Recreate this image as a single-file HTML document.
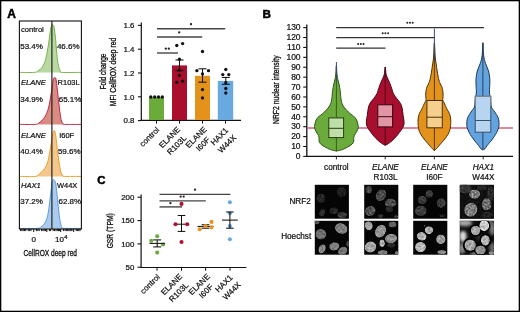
<!DOCTYPE html>
<html><head><meta charset="utf-8"><title>Figure</title>
<style>
html,body{margin:0;padding:0;background:#fff;}
body{width:520px;height:312px;overflow:hidden;}
svg{display:block;font-family:"Liberation Sans",sans-serif;}
text{font-family:"Liberation Sans",sans-serif;}
</style></head><body>
<svg width="520" height="312" viewBox="0 0 520 312">
<g opacity="0.999">
<rect x="0" y="0" width="520" height="312" fill="#fff"/>
<rect x="0.65" y="0.65" width="518.7" height="310.7" fill="none" stroke="#000" stroke-width="1.3"/>
<text x="7.3" y="17.8" text-anchor="start" fill="#000" style="font-size:12px;stroke:#000;stroke-width:0.5px;font-weight:bold;" >A</text>
<text x="262.5" y="17.5" text-anchor="start" fill="#000" style="font-size:11.7px;stroke:#000;stroke-width:0.5px;font-weight:bold;" >B</text>
<text x="97.3" y="183.7" text-anchor="start" fill="#000" style="font-size:11.4px;stroke:#000;stroke-width:0.5px;font-weight:bold;" >C</text>
<path d="M19.40,72.40C21.87,72.40 31.08,72.65 34.20,72.40C37.32,72.15 36.82,71.70 38.10,70.90C39.38,70.10 40.78,69.05 41.90,67.60C43.02,66.15 44.00,64.38 44.80,62.20C45.60,60.02 46.05,57.70 46.70,54.50C47.35,51.30 48.12,46.83 48.70,43.00C49.28,39.17 49.73,34.45 50.20,31.50C50.67,28.55 51.12,26.43 51.50,25.30C51.88,24.17 52.08,24.47 52.50,24.70C52.92,24.93 53.52,24.62 54.00,26.70C54.48,28.78 54.92,32.57 55.40,37.20C55.88,41.83 56.42,49.85 56.90,54.50C57.38,59.15 57.75,62.37 58.30,65.10C58.85,67.83 59.57,69.68 60.20,70.90C60.83,72.12 58.57,72.15 62.10,72.40C65.63,72.65 78.18,72.40 81.40,72.40" fill="#b9d9a2" stroke="none"/>
<path d="M19.40,72.40C21.87,72.40 31.08,72.65 34.20,72.40C37.32,72.15 36.82,71.70 38.10,70.90C39.38,70.10 40.78,69.05 41.90,67.60C43.02,66.15 44.00,64.38 44.80,62.20C45.60,60.02 46.05,57.70 46.70,54.50C47.35,51.30 48.12,46.83 48.70,43.00C49.28,39.17 49.73,34.45 50.20,31.50C50.67,28.55 51.12,26.43 51.50,25.30C51.88,24.17 52.08,24.47 52.50,24.70C52.92,24.93 53.52,24.62 54.00,26.70C54.48,28.78 54.92,32.57 55.40,37.20C55.88,41.83 56.42,49.85 56.90,54.50C57.38,59.15 57.75,62.37 58.30,65.10C58.85,67.83 59.57,69.68 60.20,70.90C60.83,72.12 58.57,72.15 62.10,72.40C65.63,72.65 78.18,72.40 81.40,72.40" fill="none" stroke="#6bab3c" stroke-width="0.9"/>
<path d="M19.40,124.40C22.03,124.40 31.93,124.65 35.20,124.40C38.47,124.15 37.72,123.70 39.00,122.90C40.28,122.10 41.77,120.88 42.90,119.60C44.03,118.32 44.93,116.90 45.80,115.20C46.67,113.50 47.40,111.80 48.10,109.40C48.80,107.00 49.43,103.83 50.00,100.80C50.57,97.77 51.02,94.42 51.50,91.20C51.98,87.98 52.52,83.68 52.90,81.50C53.28,79.32 53.48,78.73 53.80,78.10C54.12,77.47 54.43,77.52 54.80,77.70C55.17,77.88 55.58,77.28 56.00,79.20C56.42,81.12 56.83,85.28 57.30,89.20C57.77,93.12 58.32,98.53 58.80,102.70C59.28,106.87 59.75,111.15 60.20,114.20C60.65,117.25 61.02,119.40 61.50,121.00C61.98,122.60 62.58,123.23 63.10,123.80C63.62,124.37 61.55,124.30 64.60,124.40C67.65,124.50 78.60,124.40 81.40,124.40" fill="#d98c82" stroke="none"/>
<path d="M19.40,124.40C22.03,124.40 31.93,124.65 35.20,124.40C38.47,124.15 37.72,123.70 39.00,122.90C40.28,122.10 41.77,120.88 42.90,119.60C44.03,118.32 44.93,116.90 45.80,115.20C46.67,113.50 47.40,111.80 48.10,109.40C48.80,107.00 49.43,103.83 50.00,100.80C50.57,97.77 51.02,94.42 51.50,91.20C51.98,87.98 52.52,83.68 52.90,81.50C53.28,79.32 53.48,78.73 53.80,78.10C54.12,77.47 54.43,77.52 54.80,77.70C55.17,77.88 55.58,77.28 56.00,79.20C56.42,81.12 56.83,85.28 57.30,89.20C57.77,93.12 58.32,98.53 58.80,102.70C59.28,106.87 59.75,111.15 60.20,114.20C60.65,117.25 61.02,119.40 61.50,121.00C61.98,122.60 62.58,123.23 63.10,123.80C63.62,124.37 61.55,124.30 64.60,124.40C67.65,124.50 78.60,124.40 81.40,124.40" fill="none" stroke="#b8173a" stroke-width="0.9"/>
<path d="M19.40,176.40C22.03,176.40 31.93,176.75 35.20,176.40C38.47,176.05 37.72,175.28 39.00,174.30C40.28,173.32 41.77,171.78 42.90,170.50C44.03,169.22 44.93,168.27 45.80,166.60C46.67,164.93 47.40,163.13 48.10,160.50C48.80,157.87 49.43,154.02 50.00,150.80C50.57,147.58 51.02,144.08 51.50,141.20C51.98,138.32 52.48,135.25 52.90,133.50C53.32,131.75 53.65,131.02 54.00,130.70C54.35,130.38 54.67,130.48 55.00,131.60C55.33,132.72 55.62,134.52 56.00,137.40C56.38,140.28 56.83,145.05 57.30,148.90C57.77,152.75 58.32,157.13 58.80,160.50C59.28,163.87 59.75,166.87 60.20,169.10C60.65,171.33 61.02,172.78 61.50,173.90C61.98,175.02 62.58,175.38 63.10,175.80C63.62,176.22 61.55,176.30 64.60,176.40C67.65,176.50 78.60,176.40 81.40,176.40" fill="#f4c88c" stroke="none"/>
<path d="M19.40,176.40C22.03,176.40 31.93,176.75 35.20,176.40C38.47,176.05 37.72,175.28 39.00,174.30C40.28,173.32 41.77,171.78 42.90,170.50C44.03,169.22 44.93,168.27 45.80,166.60C46.67,164.93 47.40,163.13 48.10,160.50C48.80,157.87 49.43,154.02 50.00,150.80C50.57,147.58 51.02,144.08 51.50,141.20C51.98,138.32 52.48,135.25 52.90,133.50C53.32,131.75 53.65,131.02 54.00,130.70C54.35,130.38 54.67,130.48 55.00,131.60C55.33,132.72 55.62,134.52 56.00,137.40C56.38,140.28 56.83,145.05 57.30,148.90C57.77,152.75 58.32,157.13 58.80,160.50C59.28,163.87 59.75,166.87 60.20,169.10C60.65,171.33 61.02,172.78 61.50,173.90C61.98,175.02 62.58,175.38 63.10,175.80C63.62,176.22 61.55,176.30 64.60,176.40C67.65,176.50 78.60,176.40 81.40,176.40" fill="none" stroke="#e8961d" stroke-width="0.9"/>
<path d="M19.40,228.40C22.35,228.40 33.50,228.65 37.10,228.40C40.70,228.15 39.88,227.57 41.00,226.90C42.12,226.23 42.93,225.52 43.80,224.40C44.67,223.28 45.48,222.03 46.20,220.20C46.92,218.37 47.53,216.30 48.10,213.40C48.67,210.50 49.12,206.48 49.60,202.80C50.08,199.12 50.58,194.65 51.00,191.30C51.42,187.95 51.75,184.62 52.10,182.70C52.45,180.78 52.72,180.20 53.10,179.80C53.48,179.40 53.95,179.67 54.40,180.30C54.85,180.93 55.38,181.45 55.80,183.60C56.22,185.75 56.48,189.35 56.90,193.20C57.32,197.05 57.85,202.53 58.30,206.70C58.75,210.87 59.12,215.07 59.60,218.20C60.08,221.33 60.62,223.83 61.20,225.50C61.78,227.17 59.73,227.72 63.10,228.20C66.47,228.68 78.35,228.37 81.40,228.40" fill="#aacbee" stroke="none"/>
<path d="M19.40,228.40C22.35,228.40 33.50,228.65 37.10,228.40C40.70,228.15 39.88,227.57 41.00,226.90C42.12,226.23 42.93,225.52 43.80,224.40C44.67,223.28 45.48,222.03 46.20,220.20C46.92,218.37 47.53,216.30 48.10,213.40C48.67,210.50 49.12,206.48 49.60,202.80C50.08,199.12 50.58,194.65 51.00,191.30C51.42,187.95 51.75,184.62 52.10,182.70C52.45,180.78 52.72,180.20 53.10,179.80C53.48,179.40 53.95,179.67 54.40,180.30C54.85,180.93 55.38,181.45 55.80,183.60C56.22,185.75 56.48,189.35 56.90,193.20C57.32,197.05 57.85,202.53 58.30,206.70C58.75,210.87 59.12,215.07 59.60,218.20C60.08,221.33 60.62,223.83 61.20,225.50C61.78,227.17 59.73,227.72 63.10,228.20C66.47,228.68 78.35,228.37 81.40,228.40" fill="none" stroke="#4c93dc" stroke-width="0.9"/>
<line x1="51.9" y1="21.0" x2="51.9" y2="229.0" stroke="#1c1c1c" stroke-width="1.15" stroke-linecap="butt"/>
<rect x="19.4" y="21.0" width="62.00000000000001" height="208.0" fill="none" stroke="#111" stroke-width="1.1"/>
<line x1="20.6" y1="229" x2="20.6" y2="231.1" stroke="#111" stroke-width="1.0" stroke-linecap="butt"/>
<line x1="21.9" y1="229" x2="21.9" y2="231.1" stroke="#111" stroke-width="1.0" stroke-linecap="butt"/>
<line x1="23.2" y1="229" x2="23.2" y2="231.1" stroke="#111" stroke-width="1.0" stroke-linecap="butt"/>
<line x1="24.5" y1="229" x2="24.5" y2="231.1" stroke="#111" stroke-width="1.0" stroke-linecap="butt"/>
<line x1="25.8" y1="229" x2="25.8" y2="231.1" stroke="#111" stroke-width="1.0" stroke-linecap="butt"/>
<line x1="28.2" y1="229" x2="28.2" y2="231.1" stroke="#111" stroke-width="1.0" stroke-linecap="butt"/>
<line x1="29.6" y1="229" x2="29.6" y2="231.1" stroke="#111" stroke-width="1.0" stroke-linecap="butt"/>
<line x1="31.0" y1="229" x2="31.0" y2="231.1" stroke="#111" stroke-width="1.0" stroke-linecap="butt"/>
<line x1="33.7" y1="229" x2="33.7" y2="232.0" stroke="#111" stroke-width="1.0" stroke-linecap="butt"/>
<line x1="36.4" y1="229" x2="36.4" y2="231.1" stroke="#111" stroke-width="1.0" stroke-linecap="butt"/>
<line x1="37.8" y1="229" x2="37.8" y2="231.1" stroke="#111" stroke-width="1.0" stroke-linecap="butt"/>
<line x1="39.2" y1="229" x2="39.2" y2="231.1" stroke="#111" stroke-width="1.0" stroke-linecap="butt"/>
<line x1="41.6" y1="229" x2="41.6" y2="231.1" stroke="#111" stroke-width="1.0" stroke-linecap="butt"/>
<line x1="42.9" y1="229" x2="42.9" y2="231.1" stroke="#111" stroke-width="1.0" stroke-linecap="butt"/>
<line x1="44.2" y1="229" x2="44.2" y2="231.1" stroke="#111" stroke-width="1.0" stroke-linecap="butt"/>
<line x1="45.5" y1="229" x2="45.5" y2="231.1" stroke="#111" stroke-width="1.0" stroke-linecap="butt"/>
<line x1="46.8" y1="229" x2="46.8" y2="232.0" stroke="#111" stroke-width="1.0" stroke-linecap="butt"/>
<line x1="49.4" y1="229" x2="49.4" y2="231.1" stroke="#111" stroke-width="1.0" stroke-linecap="butt"/>
<line x1="50.6" y1="229" x2="50.6" y2="231.1" stroke="#111" stroke-width="1.0" stroke-linecap="butt"/>
<line x1="53.2" y1="229" x2="53.2" y2="231.1" stroke="#111" stroke-width="1.0" stroke-linecap="butt"/>
<line x1="54.6" y1="229" x2="54.6" y2="231.1" stroke="#111" stroke-width="1.0" stroke-linecap="butt"/>
<line x1="56.0" y1="229" x2="56.0" y2="231.1" stroke="#111" stroke-width="1.0" stroke-linecap="butt"/>
<line x1="57.3" y1="229" x2="57.3" y2="231.1" stroke="#111" stroke-width="1.0" stroke-linecap="butt"/>
<line x1="58.5" y1="229" x2="58.5" y2="231.1" stroke="#111" stroke-width="1.0" stroke-linecap="butt"/>
<line x1="59.6" y1="229" x2="59.6" y2="231.1" stroke="#111" stroke-width="1.0" stroke-linecap="butt"/>
<line x1="60.7" y1="229" x2="60.7" y2="232.0" stroke="#111" stroke-width="1.0" stroke-linecap="butt"/>
<line x1="63.4" y1="229" x2="63.4" y2="231.1" stroke="#111" stroke-width="1.0" stroke-linecap="butt"/>
<line x1="65.0" y1="229" x2="65.0" y2="231.1" stroke="#111" stroke-width="1.0" stroke-linecap="butt"/>
<line x1="66.4" y1="229" x2="66.4" y2="231.1" stroke="#111" stroke-width="1.0" stroke-linecap="butt"/>
<line x1="67.7" y1="229" x2="67.7" y2="231.1" stroke="#111" stroke-width="1.0" stroke-linecap="butt"/>
<line x1="68.9" y1="229" x2="68.9" y2="231.1" stroke="#111" stroke-width="1.0" stroke-linecap="butt"/>
<line x1="70.0" y1="229" x2="70.0" y2="231.1" stroke="#111" stroke-width="1.0" stroke-linecap="butt"/>
<line x1="71.0" y1="229" x2="71.0" y2="231.1" stroke="#111" stroke-width="1.0" stroke-linecap="butt"/>
<line x1="72.0" y1="229" x2="72.0" y2="231.1" stroke="#111" stroke-width="1.0" stroke-linecap="butt"/>
<line x1="73.7" y1="229" x2="73.7" y2="232.0" stroke="#111" stroke-width="1.0" stroke-linecap="butt"/>
<line x1="76.2" y1="229" x2="76.2" y2="231.1" stroke="#111" stroke-width="1.0" stroke-linecap="butt"/>
<line x1="77.6" y1="229" x2="77.6" y2="231.1" stroke="#111" stroke-width="1.0" stroke-linecap="butt"/>
<line x1="78.8" y1="229" x2="78.8" y2="231.1" stroke="#111" stroke-width="1.0" stroke-linecap="butt"/>
<line x1="80.0" y1="229" x2="80.0" y2="231.1" stroke="#111" stroke-width="1.0" stroke-linecap="butt"/>
<text x="21.0" y="32.4" text-anchor="start" fill="#111" style="font-size:7.6px;stroke:#111;stroke-width:0.22px;" >control</text>
<text x="20.2" y="49.2" text-anchor="start" fill="#111" style="font-size:8.0px;stroke:#111;stroke-width:0.22px;" >53.4%</text>
<text x="79.6" y="48.5" text-anchor="end" fill="#111" style="font-size:8.0px;stroke:#111;stroke-width:0.22px;" >46.6%</text>
<text x="21.0" y="85.0" text-anchor="start" fill="#111" style="font-size:7.6px;stroke:#111;stroke-width:0.22px;font-style:italic;" >ELANE</text>
<text x="20.2" y="102.3" text-anchor="start" fill="#111" style="font-size:8.0px;stroke:#111;stroke-width:0.22px;" >34.9%</text>
<text x="81.4" y="102.3" text-anchor="end" fill="#111" style="font-size:8.0px;stroke:#111;stroke-width:0.22px;" >65.1%</text>
<text x="57.6" y="85.0" text-anchor="start" fill="#111" style="font-size:7.5px;stroke:#111;stroke-width:0.22px;" >R103L</text>
<text x="21.0" y="137.6" text-anchor="start" fill="#111" style="font-size:7.6px;stroke:#111;stroke-width:0.22px;font-style:italic;" >ELANE</text>
<text x="20.2" y="154.3" text-anchor="start" fill="#111" style="font-size:8.0px;stroke:#111;stroke-width:0.22px;" >40.4%</text>
<text x="80.6" y="154.3" text-anchor="end" fill="#111" style="font-size:8.0px;stroke:#111;stroke-width:0.22px;" >59.6%</text>
<text x="59.2" y="137.6" text-anchor="start" fill="#111" style="font-size:7.5px;stroke:#111;stroke-width:0.22px;" >I60F</text>
<text x="21.0" y="187.6" text-anchor="start" fill="#111" style="font-size:7.6px;stroke:#111;stroke-width:0.22px;font-style:italic;" >HAX1</text>
<text x="20.2" y="203.8" text-anchor="start" fill="#111" style="font-size:8.0px;stroke:#111;stroke-width:0.22px;" >37.2%</text>
<text x="81.2" y="203.8" text-anchor="end" fill="#111" style="font-size:8.0px;stroke:#111;stroke-width:0.22px;" >62.8%</text>
<text x="56.9" y="187.6" text-anchor="start" fill="#111" style="font-size:7.5px;stroke:#111;stroke-width:0.22px;" >W44X</text>
<text x="33.8" y="242.0" text-anchor="middle" fill="#111" style="font-size:8.0px;stroke:#111;stroke-width:0.22px;" >0</text>
<text x="55.0" y="242.0" fill="#111" style="font-size:8.0px;stroke:#111;stroke-width:0.22px;">10<tspan dy="-3.2" dx="0.3" style="font-size:5.6px;">4</tspan></text>
<text transform="translate(50.3,256.3) rotate(0) scale(0.71,1)" text-anchor="middle" fill="#111" style="font-size:9.3px;stroke:#111;stroke-width:0.33px;">CellROX deep red</text>
<line x1="141.3" y1="22.6" x2="141.3" y2="120.9" stroke="#111" stroke-width="1.2" stroke-linecap="butt"/>
<line x1="140.70000000000002" y1="120.4" x2="241.0" y2="120.4" stroke="#111" stroke-width="1.2" stroke-linecap="butt"/>
<line x1="138.0" y1="120.6" x2="141.3" y2="120.6" stroke="#111" stroke-width="1.1" stroke-linecap="butt"/>
<text x="134.5" y="123.3" text-anchor="end" fill="#111" style="font-size:7.9px;stroke:#111;stroke-width:0.22px;" >0.8</text>
<line x1="138.0" y1="96.8" x2="141.3" y2="96.8" stroke="#111" stroke-width="1.1" stroke-linecap="butt"/>
<text x="134.5" y="99.5" text-anchor="end" fill="#111" style="font-size:7.9px;stroke:#111;stroke-width:0.22px;" >1.0</text>
<line x1="138.0" y1="73.0" x2="141.3" y2="73.0" stroke="#111" stroke-width="1.1" stroke-linecap="butt"/>
<text x="134.5" y="75.7" text-anchor="end" fill="#111" style="font-size:7.9px;stroke:#111;stroke-width:0.22px;" >1.2</text>
<line x1="138.0" y1="49.20000000000001" x2="141.3" y2="49.20000000000001" stroke="#111" stroke-width="1.1" stroke-linecap="butt"/>
<text x="134.5" y="51.90000000000001" text-anchor="end" fill="#111" style="font-size:7.9px;stroke:#111;stroke-width:0.22px;" >1.4</text>
<line x1="138.0" y1="25.39999999999999" x2="141.3" y2="25.39999999999999" stroke="#111" stroke-width="1.1" stroke-linecap="butt"/>
<text x="134.5" y="28.09999999999999" text-anchor="end" fill="#111" style="font-size:7.9px;stroke:#111;stroke-width:0.22px;" >1.6</text>
<rect x="149.0" y="97.0" width="15.0" height="23.00" fill="#6bab3c"/>
<rect x="172.0" y="65.4" width="15.0" height="54.60" fill="#a90e2d"/>
<rect x="195.0" y="75.8" width="15.0" height="44.20" fill="#e3921c"/>
<rect x="217.8" y="80.9" width="15.399999999999977" height="39.10" fill="#68aadf"/>
<line x1="156.5" y1="120.4" x2="156.5" y2="123.60000000000001" stroke="#111" stroke-width="1.0" stroke-linecap="butt"/>
<line x1="179.5" y1="120.4" x2="179.5" y2="123.60000000000001" stroke="#111" stroke-width="1.0" stroke-linecap="butt"/>
<line x1="202.5" y1="120.4" x2="202.5" y2="123.60000000000001" stroke="#111" stroke-width="1.0" stroke-linecap="butt"/>
<line x1="225.5" y1="120.4" x2="225.5" y2="123.60000000000001" stroke="#111" stroke-width="1.0" stroke-linecap="butt"/>
<line x1="179.5" y1="60.0" x2="179.5" y2="70.7" stroke="#111" stroke-width="1.05" stroke-linecap="butt"/>
<line x1="175.5" y1="60.0" x2="183.5" y2="60.0" stroke="#111" stroke-width="1.05" stroke-linecap="butt"/>
<line x1="175.5" y1="70.7" x2="183.5" y2="70.7" stroke="#111" stroke-width="1.05" stroke-linecap="butt"/>
<line x1="202.5" y1="68.8" x2="202.5" y2="82.2" stroke="#111" stroke-width="1.05" stroke-linecap="butt"/>
<line x1="198.5" y1="68.8" x2="206.5" y2="68.8" stroke="#111" stroke-width="1.05" stroke-linecap="butt"/>
<line x1="198.5" y1="82.2" x2="206.5" y2="82.2" stroke="#111" stroke-width="1.05" stroke-linecap="butt"/>
<line x1="225.8" y1="77.4" x2="225.8" y2="84.3" stroke="#111" stroke-width="1.05" stroke-linecap="butt"/>
<line x1="221.8" y1="77.4" x2="229.8" y2="77.4" stroke="#111" stroke-width="1.05" stroke-linecap="butt"/>
<line x1="221.8" y1="84.3" x2="229.8" y2="84.3" stroke="#111" stroke-width="1.05" stroke-linecap="butt"/>
<circle cx="150.8" cy="97" r="1.65" fill="#111"/>
<circle cx="154.7" cy="97" r="1.65" fill="#111"/>
<circle cx="158.5" cy="97" r="1.65" fill="#111"/>
<circle cx="162.3" cy="97" r="1.65" fill="#111"/>
<circle cx="176.8" cy="45.5" r="1.65" fill="#111"/>
<circle cx="182.6" cy="43.6" r="1.65" fill="#111"/>
<circle cx="179.4" cy="59.2" r="1.65" fill="#111"/>
<circle cx="179.4" cy="70.0" r="1.65" fill="#111"/>
<circle cx="179.4" cy="75.4" r="1.65" fill="#111"/>
<circle cx="176.8" cy="82.3" r="1.65" fill="#111"/>
<circle cx="182.6" cy="81.2" r="1.65" fill="#111"/>
<circle cx="202.5" cy="51.5" r="1.65" fill="#111"/>
<circle cx="196.9" cy="70.7" r="1.65" fill="#111"/>
<circle cx="208.5" cy="70.7" r="1.65" fill="#111"/>
<circle cx="202.5" cy="73.9" r="1.65" fill="#111"/>
<circle cx="202.5" cy="89.6" r="1.65" fill="#111"/>
<circle cx="202.5" cy="97.9" r="1.65" fill="#111"/>
<circle cx="225.8" cy="69.5" r="1.65" fill="#111"/>
<circle cx="222.8" cy="74.6" r="1.65" fill="#111"/>
<circle cx="228.8" cy="74.6" r="1.65" fill="#111"/>
<circle cx="225.8" cy="82.7" r="1.65" fill="#111"/>
<circle cx="225.8" cy="88.5" r="1.65" fill="#111"/>
<circle cx="225.8" cy="93.0" r="1.65" fill="#111"/>
<line x1="157.0" y1="28.7" x2="225.2" y2="28.7" stroke="#454545" stroke-width="1.4" stroke-linecap="butt"/>
<line x1="157.0" y1="37.0" x2="202.2" y2="37.0" stroke="#454545" stroke-width="1.4" stroke-linecap="butt"/>
<line x1="157.0" y1="53.0" x2="178.0" y2="53.0" stroke="#454545" stroke-width="1.4" stroke-linecap="butt"/>
<circle cx="191.00" cy="24.2" r="1.15" fill="#222"/>
<circle cx="179.20" cy="32.4" r="1.15" fill="#222"/>
<circle cx="165.80" cy="48.7" r="1.15" fill="#222"/>
<circle cx="168.80" cy="48.7" r="1.15" fill="#222"/>
<text transform="translate(105.9,71.5) rotate(-90) scale(0.713,1)" text-anchor="middle" fill="#111" style="font-size:9.2px;stroke:#111;stroke-width:0.33px;">Fold change</text>
<text transform="translate(115.5,72.0) rotate(-90) scale(0.736,1)" text-anchor="middle" fill="#111" style="font-size:9.2px;stroke:#111;stroke-width:0.33px;">MFI CellROX deep red</text>
<text transform="translate(149.3,136.8) rotate(-45)" x="0" y="2.88" text-anchor="middle" fill="#111" style="font-size:8.0px;stroke:#111;stroke-width:0.22px;">control</text>
<text transform="translate(169.5,137.2) rotate(-45)" x="0" y="2.88" text-anchor="middle" fill="#111" style="font-size:8.0px;stroke:#111;stroke-width:0.22px;">ELANE</text>
<text transform="translate(176.6,145.0) rotate(-45)" x="0" y="2.88" text-anchor="middle" fill="#111" style="font-size:8.0px;stroke:#111;stroke-width:0.22px;">R103L</text>
<text transform="translate(196.0,137.2) rotate(-45)" x="0" y="2.88" text-anchor="middle" fill="#111" style="font-size:8.0px;stroke:#111;stroke-width:0.22px;">ELANE</text>
<text transform="translate(202.8,144.0) rotate(-45)" x="0" y="2.88" text-anchor="middle" fill="#111" style="font-size:8.0px;stroke:#111;stroke-width:0.22px;">I60F</text>
<text transform="translate(219.3,136.3) rotate(-45)" x="0" y="2.88" text-anchor="middle" fill="#111" style="font-size:8.0px;stroke:#111;stroke-width:0.22px;">HAX1</text>
<text transform="translate(227.0,143.8) rotate(-45)" x="0" y="2.88" text-anchor="middle" fill="#111" style="font-size:8.0px;stroke:#111;stroke-width:0.22px;">W44X</text>
<line x1="141.1" y1="194.4" x2="141.1" y2="268.0" stroke="#111" stroke-width="1.2" stroke-linecap="butt"/>
<line x1="140.5" y1="267.5" x2="246.4" y2="267.5" stroke="#111" stroke-width="1.2" stroke-linecap="butt"/>
<line x1="137.5" y1="267.235" x2="141.1" y2="267.235" stroke="#111" stroke-width="1.1" stroke-linecap="butt"/>
<text x="134.3" y="269.935" text-anchor="end" fill="#111" style="font-size:7.9px;stroke:#111;stroke-width:0.22px;" >50</text>
<line x1="137.5" y1="243.9" x2="141.1" y2="243.9" stroke="#111" stroke-width="1.1" stroke-linecap="butt"/>
<text x="134.3" y="246.6" text-anchor="end" fill="#111" style="font-size:7.9px;stroke:#111;stroke-width:0.22px;" >100</text>
<line x1="137.5" y1="220.565" x2="141.1" y2="220.565" stroke="#111" stroke-width="1.1" stroke-linecap="butt"/>
<text x="134.3" y="223.265" text-anchor="end" fill="#111" style="font-size:7.9px;stroke:#111;stroke-width:0.22px;" >150</text>
<line x1="137.5" y1="197.23000000000002" x2="141.1" y2="197.23000000000002" stroke="#111" stroke-width="1.1" stroke-linecap="butt"/>
<text x="134.3" y="199.93" text-anchor="end" fill="#111" style="font-size:7.9px;stroke:#111;stroke-width:0.22px;" >200</text>
<line x1="157.0" y1="267.5" x2="157.0" y2="270.7" stroke="#111" stroke-width="1.0" stroke-linecap="butt"/>
<line x1="181.5" y1="267.5" x2="181.5" y2="270.7" stroke="#111" stroke-width="1.0" stroke-linecap="butt"/>
<line x1="205.6" y1="267.5" x2="205.6" y2="270.7" stroke="#111" stroke-width="1.0" stroke-linecap="butt"/>
<line x1="230.0" y1="267.5" x2="230.0" y2="270.7" stroke="#111" stroke-width="1.0" stroke-linecap="butt"/>
<text transform="translate(112.5,230.8) rotate(-90) scale(0.733,1)" text-anchor="middle" fill="#111" style="font-size:9.2px;stroke:#111;stroke-width:0.33px;">GSR (TPM)</text>
<line x1="159.5" y1="194.4" x2="230.4" y2="194.4" stroke="#454545" stroke-width="1.4" stroke-linecap="butt"/>
<line x1="159.5" y1="200.9" x2="205.8" y2="200.9" stroke="#454545" stroke-width="1.4" stroke-linecap="butt"/>
<line x1="159.5" y1="206.9" x2="182.0" y2="206.9" stroke="#454545" stroke-width="1.4" stroke-linecap="butt"/>
<circle cx="195.00" cy="189.7" r="1.15" fill="#222"/>
<circle cx="180.70" cy="196.6" r="1.15" fill="#222"/>
<circle cx="183.70" cy="196.6" r="1.15" fill="#222"/>
<circle cx="170.40" cy="203.2" r="1.15" fill="#222"/>
<line x1="181.5" y1="215.5" x2="181.5" y2="231.4" stroke="#111" stroke-width="1.05" stroke-linecap="butt"/>
<line x1="177.7" y1="215.5" x2="185.3" y2="215.5" stroke="#111" stroke-width="1.05" stroke-linecap="butt"/>
<line x1="177.7" y1="231.4" x2="185.3" y2="231.4" stroke="#111" stroke-width="1.05" stroke-linecap="butt"/>
<line x1="173.9" y1="224.2" x2="189.1" y2="224.2" stroke="#111" stroke-width="1.05" stroke-linecap="butt"/>
<line x1="205.5" y1="224.7" x2="205.5" y2="228.2" stroke="#111" stroke-width="1.05" stroke-linecap="butt"/>
<line x1="201.7" y1="224.7" x2="209.3" y2="224.7" stroke="#111" stroke-width="1.05" stroke-linecap="butt"/>
<line x1="201.7" y1="228.2" x2="209.3" y2="228.2" stroke="#111" stroke-width="1.05" stroke-linecap="butt"/>
<line x1="197.5" y1="226.4" x2="213.5" y2="226.4" stroke="#111" stroke-width="1.05" stroke-linecap="butt"/>
<circle cx="157.2" cy="236.2" r="2.05" fill="#6bab3c"/>
<circle cx="151.2" cy="240.8" r="2.05" fill="#6bab3c"/>
<circle cx="163.0" cy="244.5" r="2.05" fill="#6bab3c"/>
<circle cx="157.2" cy="252.6" r="2.05" fill="#6bab3c"/>
<circle cx="181.5" cy="203.9" r="2.05" fill="#b1102f"/>
<circle cx="175.5" cy="224.2" r="2.05" fill="#b1102f"/>
<circle cx="187.2" cy="224.2" r="2.05" fill="#b1102f"/>
<circle cx="181.5" cy="242.0" r="2.05" fill="#b1102f"/>
<circle cx="199.7" cy="229.3" r="2.05" fill="#e8941a"/>
<circle cx="205.5" cy="226.1" r="2.05" fill="#e8941a"/>
<circle cx="211.5" cy="221.9" r="2.05" fill="#e8941a"/>
<circle cx="211.5" cy="227.2" r="2.05" fill="#e8941a"/>
<circle cx="229.9" cy="202.3" r="2.05" fill="#68aadf"/>
<circle cx="229.9" cy="213.2" r="2.05" fill="#68aadf"/>
<circle cx="229.9" cy="226.1" r="2.05" fill="#68aadf"/>
<circle cx="229.9" cy="239.2" r="2.05" fill="#68aadf"/>
<line x1="157.2" y1="239.9" x2="157.2" y2="246.9" stroke="#111" stroke-width="1.05" stroke-linecap="butt"/>
<line x1="153.2" y1="239.9" x2="161.2" y2="239.9" stroke="#111" stroke-width="1.05" stroke-linecap="butt"/>
<line x1="153.2" y1="246.9" x2="161.2" y2="246.9" stroke="#111" stroke-width="1.05" stroke-linecap="butt"/>
<line x1="149.39999999999998" y1="243.4" x2="165.0" y2="243.4" stroke="#111" stroke-width="1.05" stroke-linecap="butt"/>
<line x1="229.9" y1="212.0" x2="229.9" y2="228.2" stroke="#111" stroke-width="1.05" stroke-linecap="butt"/>
<line x1="226.1" y1="212.0" x2="233.70000000000002" y2="212.0" stroke="#111" stroke-width="1.05" stroke-linecap="butt"/>
<line x1="226.1" y1="228.2" x2="233.70000000000002" y2="228.2" stroke="#111" stroke-width="1.05" stroke-linecap="butt"/>
<line x1="222.0" y1="220.1" x2="237.8" y2="220.1" stroke="#111" stroke-width="1.05" stroke-linecap="butt"/>
<text transform="translate(149.9,283.9) rotate(-45)" x="0" y="2.88" text-anchor="middle" fill="#111" style="font-size:8.0px;stroke:#111;stroke-width:0.22px;">control</text>
<text transform="translate(171.5,284.3) rotate(-45)" x="0" y="2.88" text-anchor="middle" fill="#111" style="font-size:8.0px;stroke:#111;stroke-width:0.22px;">ELANE</text>
<text transform="translate(178.6,292.1) rotate(-45)" x="0" y="2.88" text-anchor="middle" fill="#111" style="font-size:8.0px;stroke:#111;stroke-width:0.22px;">R103L</text>
<text transform="translate(199.1,284.3) rotate(-45)" x="0" y="2.88" text-anchor="middle" fill="#111" style="font-size:8.0px;stroke:#111;stroke-width:0.22px;">ELANE</text>
<text transform="translate(205.9,291.0) rotate(-45)" x="0" y="2.88" text-anchor="middle" fill="#111" style="font-size:8.0px;stroke:#111;stroke-width:0.22px;">I60F</text>
<text transform="translate(223.8,283.4) rotate(-45)" x="0" y="2.88" text-anchor="middle" fill="#111" style="font-size:8.0px;stroke:#111;stroke-width:0.22px;">HAX1</text>
<text transform="translate(231.6,290.8) rotate(-45)" x="0" y="2.88" text-anchor="middle" fill="#111" style="font-size:8.0px;stroke:#111;stroke-width:0.22px;">W44X</text>
<line x1="306.8" y1="24.6" x2="306.8" y2="157.0" stroke="#111" stroke-width="1.3" stroke-linecap="butt"/>
<line x1="306.2" y1="156.4" x2="513.0" y2="156.4" stroke="#111" stroke-width="1.3" stroke-linecap="butt"/>
<line x1="303.2" y1="156.4" x2="306.8" y2="156.4" stroke="#111" stroke-width="1.1" stroke-linecap="butt"/>
<text x="300.6" y="159.20000000000002" text-anchor="end" fill="#111" style="font-size:8.5px;stroke:#111;stroke-width:0.22px;" >0</text>
<line x1="303.2" y1="146.495" x2="306.8" y2="146.495" stroke="#111" stroke-width="1.1" stroke-linecap="butt"/>
<text x="300.6" y="149.29500000000002" text-anchor="end" fill="#111" style="font-size:8.5px;stroke:#111;stroke-width:0.22px;" >10</text>
<line x1="303.2" y1="136.59" x2="306.8" y2="136.59" stroke="#111" stroke-width="1.1" stroke-linecap="butt"/>
<text x="300.6" y="139.39000000000001" text-anchor="end" fill="#111" style="font-size:8.5px;stroke:#111;stroke-width:0.22px;" >20</text>
<line x1="303.2" y1="126.685" x2="306.8" y2="126.685" stroke="#111" stroke-width="1.1" stroke-linecap="butt"/>
<text x="300.6" y="129.485" text-anchor="end" fill="#111" style="font-size:8.5px;stroke:#111;stroke-width:0.22px;" >30</text>
<line x1="303.2" y1="116.78" x2="306.8" y2="116.78" stroke="#111" stroke-width="1.1" stroke-linecap="butt"/>
<text x="300.6" y="119.58" text-anchor="end" fill="#111" style="font-size:8.5px;stroke:#111;stroke-width:0.22px;" >40</text>
<line x1="303.2" y1="106.875" x2="306.8" y2="106.875" stroke="#111" stroke-width="1.1" stroke-linecap="butt"/>
<text x="300.6" y="109.675" text-anchor="end" fill="#111" style="font-size:8.5px;stroke:#111;stroke-width:0.22px;" >50</text>
<line x1="303.2" y1="96.97" x2="306.8" y2="96.97" stroke="#111" stroke-width="1.1" stroke-linecap="butt"/>
<text x="300.6" y="99.77" text-anchor="end" fill="#111" style="font-size:8.5px;stroke:#111;stroke-width:0.22px;" >60</text>
<line x1="303.2" y1="87.065" x2="306.8" y2="87.065" stroke="#111" stroke-width="1.1" stroke-linecap="butt"/>
<text x="300.6" y="89.865" text-anchor="end" fill="#111" style="font-size:8.5px;stroke:#111;stroke-width:0.22px;" >70</text>
<line x1="303.2" y1="77.16" x2="306.8" y2="77.16" stroke="#111" stroke-width="1.1" stroke-linecap="butt"/>
<text x="300.6" y="79.96" text-anchor="end" fill="#111" style="font-size:8.5px;stroke:#111;stroke-width:0.22px;" >80</text>
<line x1="303.2" y1="67.255" x2="306.8" y2="67.255" stroke="#111" stroke-width="1.1" stroke-linecap="butt"/>
<text x="300.6" y="70.05499999999999" text-anchor="end" fill="#111" style="font-size:8.5px;stroke:#111;stroke-width:0.22px;" >90</text>
<line x1="303.2" y1="57.349999999999994" x2="306.8" y2="57.349999999999994" stroke="#111" stroke-width="1.1" stroke-linecap="butt"/>
<text x="300.6" y="60.14999999999999" text-anchor="end" fill="#111" style="font-size:8.5px;stroke:#111;stroke-width:0.22px;" >100</text>
<line x1="303.2" y1="47.44500000000001" x2="306.8" y2="47.44500000000001" stroke="#111" stroke-width="1.1" stroke-linecap="butt"/>
<text x="300.6" y="50.245000000000005" text-anchor="end" fill="#111" style="font-size:8.5px;stroke:#111;stroke-width:0.22px;" >110</text>
<line x1="303.2" y1="37.540000000000006" x2="306.8" y2="37.540000000000006" stroke="#111" stroke-width="1.1" stroke-linecap="butt"/>
<text x="300.6" y="40.34" text-anchor="end" fill="#111" style="font-size:8.5px;stroke:#111;stroke-width:0.22px;" >120</text>
<line x1="303.2" y1="27.63499999999999" x2="306.8" y2="27.63499999999999" stroke="#111" stroke-width="1.1" stroke-linecap="butt"/>
<text x="300.6" y="30.43499999999999" text-anchor="end" fill="#111" style="font-size:8.5px;stroke:#111;stroke-width:0.22px;" >130</text>
<text transform="translate(278.6,89.7) rotate(-90) scale(0.692,1)" text-anchor="middle" fill="#111" style="font-size:9.8px;stroke:#111;stroke-width:0.33px;">NRF2 nuclear intensity</text>
<line x1="307.3" y1="128.0" x2="513.0" y2="128.0" stroke="#d2627b" stroke-width="1.5" stroke-linecap="butt"/>
<path d="M336.25,66.00C336.21,67.00 336.14,70.13 336.00,72.00C335.86,73.87 335.60,75.87 335.40,77.20C335.20,78.53 335.02,79.03 334.80,80.00C334.58,80.97 334.33,82.00 334.10,83.00C333.87,84.00 333.60,85.03 333.40,86.00C333.20,86.97 333.07,87.72 332.90,88.80C332.73,89.88 332.53,91.22 332.40,92.50C332.27,93.78 332.23,95.25 332.10,96.50C331.97,97.75 331.75,99.05 331.60,100.00C331.45,100.95 331.37,101.53 331.20,102.20C331.03,102.87 330.87,103.37 330.60,104.00C330.33,104.63 330.02,105.33 329.60,106.00C329.18,106.67 328.63,107.33 328.10,108.00C327.57,108.67 327.02,109.33 326.40,110.00C325.78,110.67 325.07,111.37 324.40,112.00C323.73,112.63 323.10,113.22 322.40,113.80C321.70,114.38 320.93,114.92 320.20,115.50C319.47,116.08 318.57,116.72 318.00,117.30C317.43,117.88 317.18,118.35 316.80,119.00C316.42,119.65 316.03,120.20 315.70,121.20C315.37,122.20 314.98,123.88 314.80,125.00C314.62,126.12 314.37,126.78 314.60,127.90C314.83,129.02 315.55,130.42 316.20,131.70C316.85,132.98 318.02,134.47 318.50,135.60C318.98,136.73 319.00,137.55 319.10,138.50C319.20,139.45 318.82,140.35 319.10,141.30C319.38,142.25 319.78,143.23 320.80,144.20C321.82,145.17 323.60,146.20 325.20,147.10C326.80,148.00 328.58,148.95 330.40,149.60C332.22,150.25 335.05,150.77 336.10,151.00C337.15,151.23 335.65,151.23 336.70,151.00C337.75,150.77 340.58,150.25 342.40,149.60C344.22,148.95 346.00,148.00 347.60,147.10C349.20,146.20 350.98,145.17 352.00,144.20C353.02,143.23 353.42,142.25 353.70,141.30C353.98,140.35 353.60,139.45 353.70,138.50C353.80,137.55 353.82,136.73 354.30,135.60C354.78,134.47 355.95,132.98 356.60,131.70C357.25,130.42 357.97,129.02 358.20,127.90C358.43,126.78 358.18,126.12 358.00,125.00C357.82,123.88 357.43,122.20 357.10,121.20C356.77,120.20 356.38,119.65 356.00,119.00C355.62,118.35 355.37,117.88 354.80,117.30C354.23,116.72 353.33,116.08 352.60,115.50C351.87,114.92 351.10,114.38 350.40,113.80C349.70,113.22 349.07,112.63 348.40,112.00C347.73,111.37 347.02,110.67 346.40,110.00C345.78,109.33 345.23,108.67 344.70,108.00C344.17,107.33 343.62,106.67 343.20,106.00C342.78,105.33 342.47,104.63 342.20,104.00C341.93,103.37 341.77,102.87 341.60,102.20C341.43,101.53 341.35,100.95 341.20,100.00C341.05,99.05 340.83,97.75 340.70,96.50C340.57,95.25 340.53,93.78 340.40,92.50C340.27,91.22 340.07,89.88 339.90,88.80C339.73,87.72 339.60,86.97 339.40,86.00C339.20,85.03 338.93,84.00 338.70,83.00C338.47,82.00 338.22,80.97 338.00,80.00C337.78,79.03 337.60,78.53 337.40,77.20C337.20,75.87 336.94,73.87 336.80,72.00C336.66,70.13 336.59,67.00 336.55,66.00Z" fill="#6bab3c" stroke="#2f5419" stroke-width="1.0" stroke-linejoin="round"/>
<line x1="336.4" y1="66" x2="336.4" y2="151.0" stroke="#2f5419" stroke-width="0.9" stroke-linecap="butt"/>
<line x1="336.4" y1="62.0" x2="336.4" y2="82.0" stroke="#2f4a80" stroke-width="1.0" stroke-linecap="butt"/>
<rect x="328.8" y="117.9" width="14.800000000000011" height="19.69999999999999" fill="#bfdfa9" stroke="#223d12" stroke-width="1.0"/>
<line x1="328.8" y1="128.3" x2="343.6" y2="128.3" stroke="#223d12" stroke-width="1.0" stroke-linecap="butt"/>
<path d="M385.00,67.20C384.88,68.40 384.73,72.40 384.30,74.40C383.87,76.40 383.07,77.60 382.40,79.20C381.73,80.80 380.93,82.40 380.30,84.00C379.67,85.60 379.15,87.18 378.60,88.80C378.05,90.42 377.82,92.08 377.00,93.70C376.18,95.32 374.87,96.90 373.70,98.50C372.53,100.10 370.90,101.70 370.00,103.30C369.10,104.90 368.75,106.08 368.30,108.10C367.85,110.12 367.62,113.22 367.30,115.40C366.98,117.58 366.52,119.60 366.40,121.20C366.28,122.80 366.27,123.73 366.60,125.00C366.93,126.27 367.63,127.52 368.40,128.80C369.17,130.08 370.23,131.42 371.20,132.70C372.17,133.98 373.07,135.22 374.20,136.50C375.33,137.78 376.77,139.27 378.00,140.40C379.23,141.53 380.45,142.50 381.60,143.30C382.75,144.10 384.25,144.88 384.90,145.20C385.55,145.52 384.85,145.52 385.50,145.20C386.15,144.88 387.65,144.10 388.80,143.30C389.95,142.50 391.17,141.53 392.40,140.40C393.63,139.27 395.07,137.78 396.20,136.50C397.33,135.22 398.23,133.98 399.20,132.70C400.17,131.42 401.23,130.08 402.00,128.80C402.77,127.52 403.47,126.27 403.80,125.00C404.13,123.73 404.12,122.80 404.00,121.20C403.88,119.60 403.42,117.58 403.10,115.40C402.78,113.22 402.55,110.12 402.10,108.10C401.65,106.08 401.30,104.90 400.40,103.30C399.50,101.70 397.87,100.10 396.70,98.50C395.53,96.90 394.22,95.32 393.40,93.70C392.58,92.08 392.35,90.42 391.80,88.80C391.25,87.18 390.73,85.60 390.10,84.00C389.47,82.40 388.67,80.80 388.00,79.20C387.33,77.60 386.53,76.40 386.10,74.40C385.67,72.40 385.52,68.40 385.40,67.20Z" fill="#a80e2d" stroke="#4a0613" stroke-width="1.0" stroke-linejoin="round"/>
<line x1="385.2" y1="67.2" x2="385.2" y2="145.2" stroke="#4a0613" stroke-width="0.9" stroke-linecap="butt"/>
<rect x="377.8" y="104.8" width="14.800000000000011" height="22.10000000000001" fill="#e295a4" stroke="#3b0510" stroke-width="1.0"/>
<line x1="377.8" y1="116.7" x2="392.6" y2="116.7" stroke="#3b0510" stroke-width="1.0" stroke-linecap="butt"/>
<path d="M434.25,43.00C434.20,44.17 434.04,48.00 433.95,50.00C433.86,52.00 433.81,53.33 433.70,55.00C433.59,56.67 433.50,58.33 433.30,60.00C433.10,61.67 432.75,63.33 432.50,65.00C432.25,66.67 432.10,68.10 431.80,70.00C431.50,71.90 431.02,74.73 430.70,76.40C430.38,78.07 430.18,78.93 429.90,80.00C429.62,81.07 429.32,81.97 429.00,82.80C428.68,83.63 428.33,84.35 428.00,85.00C427.67,85.65 427.25,86.12 427.00,86.70C426.75,87.28 426.65,87.87 426.50,88.50C426.35,89.13 426.22,89.75 426.10,90.50C425.98,91.25 425.87,92.15 425.80,93.00C425.73,93.85 425.68,94.77 425.70,95.60C425.72,96.43 425.83,97.35 425.90,98.00C425.97,98.65 426.18,98.92 426.10,99.50C426.02,100.08 425.68,100.87 425.40,101.50C425.12,102.13 424.72,102.63 424.40,103.30C424.08,103.97 423.78,104.85 423.50,105.50C423.22,106.15 423.05,106.45 422.70,107.20C422.35,107.95 421.82,109.23 421.40,110.00C420.98,110.77 420.62,110.97 420.20,111.80C419.78,112.63 419.23,113.98 418.90,115.00C418.57,116.02 418.35,116.82 418.20,117.90C418.05,118.98 418.00,120.23 418.00,121.50C418.00,122.77 418.10,124.33 418.20,125.50C418.30,126.67 418.40,127.48 418.60,128.50C418.80,129.52 419.02,130.60 419.40,131.60C419.78,132.60 420.30,133.48 420.90,134.50C421.50,135.52 422.23,136.65 423.00,137.70C423.77,138.75 424.63,139.78 425.50,140.80C426.37,141.82 427.38,142.85 428.20,143.80C429.02,144.75 429.75,145.73 430.40,146.50C431.05,147.27 431.48,147.75 432.10,148.40C432.72,149.05 433.67,150.07 434.10,150.40C434.53,150.73 434.27,150.73 434.70,150.40C435.13,150.07 436.08,149.05 436.70,148.40C437.32,147.75 437.75,147.27 438.40,146.50C439.05,145.73 439.78,144.75 440.60,143.80C441.42,142.85 442.43,141.82 443.30,140.80C444.17,139.78 445.03,138.75 445.80,137.70C446.57,136.65 447.30,135.52 447.90,134.50C448.50,133.48 449.02,132.60 449.40,131.60C449.78,130.60 450.00,129.52 450.20,128.50C450.40,127.48 450.50,126.67 450.60,125.50C450.70,124.33 450.80,122.77 450.80,121.50C450.80,120.23 450.75,118.98 450.60,117.90C450.45,116.82 450.23,116.02 449.90,115.00C449.57,113.98 449.02,112.63 448.60,111.80C448.18,110.97 447.82,110.77 447.40,110.00C446.98,109.23 446.45,107.95 446.10,107.20C445.75,106.45 445.58,106.15 445.30,105.50C445.02,104.85 444.72,103.97 444.40,103.30C444.08,102.63 443.68,102.13 443.40,101.50C443.12,100.87 442.78,100.08 442.70,99.50C442.62,98.92 442.83,98.65 442.90,98.00C442.97,97.35 443.08,96.43 443.10,95.60C443.12,94.77 443.07,93.85 443.00,93.00C442.93,92.15 442.82,91.25 442.70,90.50C442.58,89.75 442.45,89.13 442.30,88.50C442.15,87.87 442.05,87.28 441.80,86.70C441.55,86.12 441.13,85.65 440.80,85.00C440.47,84.35 440.12,83.63 439.80,82.80C439.48,81.97 439.18,81.07 438.90,80.00C438.62,78.93 438.42,78.07 438.10,76.40C437.78,74.73 437.30,71.90 437.00,70.00C436.70,68.10 436.55,66.67 436.30,65.00C436.05,63.33 435.70,61.67 435.50,60.00C435.30,58.33 435.21,56.67 435.10,55.00C434.99,53.33 434.94,52.00 434.85,50.00C434.76,48.00 434.60,44.17 434.55,43.00Z" fill="#e3921c" stroke="#4d3005" stroke-width="1.0" stroke-linejoin="round"/>
<line x1="434.4" y1="43" x2="434.4" y2="150.4" stroke="#4d3005" stroke-width="0.9" stroke-linecap="butt"/>
<line x1="434.4" y1="28.6" x2="434.4" y2="60.0" stroke="#2f4a80" stroke-width="1.0" stroke-linecap="butt"/>
<rect x="426.9" y="100.5" width="15.400000000000034" height="27.299999999999997" fill="#f6cf8f" stroke="#4a2d04" stroke-width="1.0"/>
<line x1="426.9" y1="117.2" x2="442.3" y2="117.2" stroke="#4a2d04" stroke-width="1.0" stroke-linecap="butt"/>
<path d="M482.80,42.80C482.68,44.93 482.52,52.18 482.10,55.60C481.68,59.02 481.10,60.73 480.30,63.30C479.50,65.87 478.02,68.43 477.30,71.00C476.58,73.57 476.20,76.13 476.00,78.70C475.80,81.27 476.03,84.18 476.10,86.40C476.17,88.62 476.47,90.23 476.40,92.00C476.33,93.77 475.93,95.17 475.70,97.00C475.47,98.83 475.23,101.25 475.00,103.00C474.77,104.75 474.82,106.20 474.30,107.50C473.78,108.80 472.68,109.68 471.90,110.80C471.12,111.92 470.30,113.07 469.60,114.20C468.90,115.33 468.15,116.47 467.70,117.60C467.25,118.73 467.05,119.85 466.90,121.00C466.75,122.15 466.75,123.38 466.80,124.50C466.85,125.62 466.83,126.42 467.20,127.70C467.57,128.98 468.25,130.70 469.00,132.20C469.75,133.70 470.70,135.20 471.70,136.70C472.70,138.20 473.82,139.70 475.00,141.20C476.18,142.70 477.82,144.43 478.80,145.70C479.78,146.97 480.27,148.12 480.90,148.80C481.53,149.48 482.22,149.63 482.60,149.80C482.98,149.97 482.82,149.97 483.20,149.80C483.58,149.63 484.27,149.48 484.90,148.80C485.53,148.12 486.02,146.97 487.00,145.70C487.98,144.43 489.62,142.70 490.80,141.20C491.98,139.70 493.10,138.20 494.10,136.70C495.10,135.20 496.05,133.70 496.80,132.20C497.55,130.70 498.23,128.98 498.60,127.70C498.97,126.42 498.95,125.62 499.00,124.50C499.05,123.38 499.05,122.15 498.90,121.00C498.75,119.85 498.55,118.73 498.10,117.60C497.65,116.47 496.90,115.33 496.20,114.20C495.50,113.07 494.68,111.92 493.90,110.80C493.12,109.68 492.02,108.80 491.50,107.50C490.98,106.20 491.03,104.75 490.80,103.00C490.57,101.25 490.33,98.83 490.10,97.00C489.87,95.17 489.47,93.77 489.40,92.00C489.33,90.23 489.63,88.62 489.70,86.40C489.77,84.18 490.00,81.27 489.80,78.70C489.60,76.13 489.22,73.57 488.50,71.00C487.78,68.43 486.30,65.87 485.50,63.30C484.70,60.73 484.12,59.02 483.70,55.60C483.28,52.18 483.12,44.93 483.00,42.80Z" fill="#63a4e0" stroke="#1f3855" stroke-width="1.0" stroke-linejoin="round"/>
<line x1="482.9" y1="42.8" x2="482.9" y2="149.8" stroke="#1f3855" stroke-width="0.9" stroke-linecap="butt"/>
<rect x="475.2" y="96.3" width="15.600000000000023" height="35.89999999999999" fill="#b7d4f0" stroke="#3a5068" stroke-width="1.0"/>
<line x1="475.2" y1="120.5" x2="490.8" y2="120.5" stroke="#3a5068" stroke-width="1.0" stroke-linecap="butt"/>
<path d="M475.2,106 V96.3 H490.8 V106" fill="none" stroke="#8a8f96" stroke-width="1.0"/>
<line x1="336.4" y1="156.4" x2="336.4" y2="159.4" stroke="#111" stroke-width="0.9" stroke-linecap="butt"/>
<line x1="385.2" y1="156.4" x2="385.2" y2="159.4" stroke="#111" stroke-width="0.9" stroke-linecap="butt"/>
<line x1="434.3" y1="156.4" x2="434.3" y2="159.4" stroke="#111" stroke-width="0.9" stroke-linecap="butt"/>
<line x1="483.2" y1="156.4" x2="483.2" y2="159.4" stroke="#111" stroke-width="0.9" stroke-linecap="butt"/>
<line x1="336.2" y1="27.6" x2="484.0" y2="27.6" stroke="#333" stroke-width="1.3" stroke-linecap="butt"/>
<line x1="336.2" y1="37.6" x2="434.6" y2="37.6" stroke="#333" stroke-width="1.3" stroke-linecap="butt"/>
<line x1="336.2" y1="48.1" x2="385.5" y2="48.1" stroke="#333" stroke-width="1.3" stroke-linecap="butt"/>
<circle cx="407.30" cy="22.8" r="1.0" fill="#222"/>
<circle cx="410.00" cy="22.8" r="1.0" fill="#222"/>
<circle cx="412.70" cy="22.8" r="1.0" fill="#222"/>
<circle cx="382.70" cy="33.2" r="1.0" fill="#222"/>
<circle cx="385.40" cy="33.2" r="1.0" fill="#222"/>
<circle cx="388.10" cy="33.2" r="1.0" fill="#222"/>
<circle cx="358.10" cy="43.9" r="1.0" fill="#222"/>
<circle cx="360.80" cy="43.9" r="1.0" fill="#222"/>
<circle cx="363.50" cy="43.9" r="1.0" fill="#222"/>
<text x="336.4" y="170.0" text-anchor="middle" fill="#111" style="font-size:8.2px;stroke:#111;stroke-width:0.22px;" >control</text>
<text x="385.4" y="169.8" text-anchor="middle" fill="#111" style="font-size:8.2px;stroke:#111;stroke-width:0.22px;font-style:italic;" >ELANE</text>
<text x="385.6" y="180.0" text-anchor="middle" fill="#111" style="font-size:8.2px;stroke:#111;stroke-width:0.22px;" >R103L</text>
<text x="434.4" y="169.8" text-anchor="middle" fill="#111" style="font-size:8.2px;stroke:#111;stroke-width:0.22px;font-style:italic;" >ELANE</text>
<text x="434.4" y="180.0" text-anchor="middle" fill="#111" style="font-size:8.2px;stroke:#111;stroke-width:0.22px;" >I60F</text>
<text x="483.4" y="169.8" text-anchor="middle" fill="#111" style="font-size:8.2px;stroke:#111;stroke-width:0.22px;font-style:italic;" >HAX1</text>
<text x="483.4" y="180.0" text-anchor="middle" fill="#111" style="font-size:8.2px;stroke:#111;stroke-width:0.22px;" >W44X</text>
<text x="310.8" y="203.8" text-anchor="end" fill="#111" style="font-size:8.2px;stroke:#111;stroke-width:0.22px;" >NRF2</text>
<text x="311.2" y="239.3" text-anchor="end" fill="#111" style="font-size:8.2px;stroke:#111;stroke-width:0.22px;" >Hoechst</text>
<defs>
<filter id="texH" x="-10%" y="-10%" width="120%" height="120%" color-interpolation-filters="sRGB">
 <feGaussianBlur in="SourceGraphic" stdDeviation="0.7" result="b"/>
 <feTurbulence type="fractalNoise" baseFrequency="0.42" numOctaves="2" seed="7" result="n"/>
 <feColorMatrix in="n" type="matrix" values="1 0 0 0 0  1 0 0 0 0  1 0 0 0 0  0 0 0 0 1" result="g"/>
 <feComposite in="b" in2="g" operator="arithmetic" k1="0.7" k2="0.6" k3="0" k4="0" result="m"/>
 <feComposite in="m" in2="b" operator="in" result="o"/>
 <feGaussianBlur in="o" stdDeviation="0.5"/>
</filter>
<filter id="texN" x="-10%" y="-10%" width="120%" height="120%" color-interpolation-filters="sRGB">
 <feGaussianBlur in="SourceGraphic" stdDeviation="0.7" result="b"/>
 <feTurbulence type="fractalNoise" baseFrequency="0.5" numOctaves="2" seed="11" result="n"/>
 <feColorMatrix in="n" type="matrix" values="1 0 0 0 0  1 0 0 0 0  1 0 0 0 0  0 0 0 0 1" result="g"/>
 <feComposite in="b" in2="g" operator="arithmetic" k1="1.5" k2="0.15" k3="0" k4="0" result="m"/>
 <feComposite in="m" in2="b" operator="in" result="o"/>
 <feGaussianBlur in="o" stdDeviation="0.5"/>
</filter>
<filter id="bl" x="-20%" y="-20%" width="140%" height="140%"><feGaussianBlur stdDeviation="0.7"/></filter>
<filter id="haze" x="-20%" y="-20%" width="140%" height="140%"><feGaussianBlur stdDeviation="1.4"/></filter>
</defs>
<clipPath id="c0N"><rect x="314.8" y="184.8" width="34.1" height="33.9"/></clipPath>
<rect x="314.8" y="184.8" width="34.1" height="33.9" fill="#050505"/>
<g clip-path="url(#c0N)">
<g filter="url(#texN)">
<ellipse cx="320.9" cy="198.2" rx="4.5" ry="4.5" fill="#2a2a2a" transform="rotate(0 320.9 198.2)"/>
<ellipse cx="341.6" cy="192.1" rx="5" ry="5" fill="#222222" transform="rotate(0 341.6 192.1)"/>
<ellipse cx="322.1" cy="212.8" rx="2.8" ry="4" fill="#363636" transform="rotate(20 322.1 212.8)"/>
<ellipse cx="333.7" cy="210.7" rx="4.5" ry="3.5" fill="#2a2a2a" transform="rotate(0 333.7 210.7)"/>
<ellipse cx="342.2" cy="214.9" rx="5" ry="3.2" fill="#404040" transform="rotate(0 342.2 214.9)"/>
</g></g>
<clipPath id="c0H"><rect x="314.8" y="220.8" width="34.1" height="33.9"/></clipPath>
<rect x="314.8" y="220.8" width="34.1" height="33.9" fill="#050505"/>
<g clip-path="url(#c0H)">
<g filter="url(#texH)">
<ellipse cx="341.2" cy="228.5" rx="6.5" ry="5.3" fill="#858585" transform="rotate(25 341.2 228.5)"/>
<ellipse cx="320.9" cy="234.2" rx="5.5" ry="5.3" fill="#747474" transform="rotate(20 320.9 234.2)"/>
<ellipse cx="316.6" cy="222.2" rx="3" ry="2" fill="#5a5a5a" transform="rotate(0 316.6 222.2)"/>
<ellipse cx="322.1" cy="248.8" rx="3.5" ry="4.8" fill="#8e8e8e" transform="rotate(25 322.1 248.8)"/>
<ellipse cx="334.3" cy="246.4" rx="5.2" ry="4.2" fill="#848484" transform="rotate(-10 334.3 246.4)"/>
<ellipse cx="342.8" cy="250.9" rx="5" ry="4" fill="#7e7e7e" transform="rotate(-30 342.8 250.9)"/>
<ellipse cx="348.0" cy="243.9" rx="2" ry="3" fill="#484848" transform="rotate(0 348.0 243.9)"/>
</g></g>
<clipPath id="c1N"><rect x="364.2" y="184.8" width="34.1" height="33.9"/></clipPath>
<rect x="364.2" y="184.8" width="34.1" height="33.9" fill="#050505"/>
<g clip-path="url(#c1N)">
<g filter="url(#texN)">
<ellipse cx="368.7" cy="189.7" rx="3.3" ry="3.8" fill="#4c4c4c" transform="rotate(0 368.7 189.7)"/>
<ellipse cx="380.9" cy="195.2" rx="5" ry="6.3" fill="#545454" transform="rotate(30 380.9 195.2)"/>
<ellipse cx="390.6" cy="203.1" rx="6" ry="4.5" fill="#545454" transform="rotate(0 390.6 203.1)"/>
<ellipse cx="370.3" cy="211.0" rx="5.5" ry="5" fill="#5c5c5c" transform="rotate(-30 370.3 211.0)"/>
<ellipse cx="389.4" cy="209.2" rx="4" ry="3" fill="#2c2c2c" transform="rotate(0 389.4 209.2)"/>
<ellipse cx="380.3" cy="215.9" rx="3" ry="2" fill="#363636" transform="rotate(0 380.3 215.9)"/>
<ellipse cx="396.1" cy="216.5" rx="2" ry="1.5" fill="#4a4a4a" transform="rotate(0 396.1 216.5)"/>
</g></g>
<clipPath id="c1H"><rect x="364.2" y="220.8" width="34.1" height="33.9"/></clipPath>
<rect x="364.2" y="220.8" width="34.1" height="33.9" fill="#050505"/>
<g clip-path="url(#c1H)">
<g filter="url(#texH)">
<ellipse cx="368.7" cy="225.7" rx="4" ry="4.6" fill="#acacac" transform="rotate(-20 368.7 225.7)"/>
<ellipse cx="380.5" cy="231.2" rx="5.3" ry="6.8" fill="#9c9c9c" transform="rotate(30 380.5 231.2)"/>
<ellipse cx="391.0" cy="238.5" rx="6.2" ry="4.8" fill="#949494" transform="rotate(-10 391.0 238.5)"/>
<ellipse cx="370.5" cy="247.0" rx="6" ry="5.5" fill="#acacac" transform="rotate(-30 370.5 247.0)"/>
<ellipse cx="382.1" cy="243.3" rx="2.8" ry="3.8" fill="#b6b6b6" transform="rotate(0 382.1 243.3)"/>
<ellipse cx="382.7" cy="252.5" rx="5" ry="2.5" fill="#848484" transform="rotate(0 382.7 252.5)"/>
<ellipse cx="392.5" cy="224.5" rx="4" ry="3" fill="#646464" transform="rotate(0 392.5 224.5)"/>
<ellipse cx="396.7" cy="253.1" rx="2" ry="2" fill="#848484" transform="rotate(0 396.7 253.1)"/>
<ellipse cx="391.2" cy="245.2" rx="4" ry="2.5" fill="#2c2c2c" transform="rotate(0 391.2 245.2)"/>
</g></g>
<clipPath id="c2N"><rect x="413.2" y="184.8" width="34.1" height="33.9"/></clipPath>
<rect x="413.2" y="184.8" width="34.1" height="33.9" fill="#050505"/>
<g clip-path="url(#c2N)">
<g filter="url(#texN)">
<ellipse cx="429.3" cy="193.9" rx="3.8" ry="3.8" fill="#404040" transform="rotate(0 429.3 193.9)"/>
<ellipse cx="422.2" cy="200.0" rx="4.8" ry="4.2" fill="#404040" transform="rotate(0 422.2 200.0)"/>
<ellipse cx="441.2" cy="203.1" rx="4.6" ry="4.8" fill="#464646" transform="rotate(0 441.2 203.1)"/>
<ellipse cx="420.8" cy="210.7" rx="6" ry="5.3" fill="#444444" transform="rotate(0 420.8 210.7)"/>
<ellipse cx="442.1" cy="215.6" rx="3" ry="1.5" fill="#262626" transform="rotate(0 442.1 215.6)"/>
</g></g>
<clipPath id="c2H"><rect x="413.2" y="220.8" width="34.1" height="33.9"/></clipPath>
<rect x="413.2" y="220.8" width="34.1" height="33.9" fill="#050505"/>
<g clip-path="url(#c2H)">
<g filter="url(#texH)">
<ellipse cx="429.0" cy="230.2" rx="4.3" ry="4" fill="#b4b4b4" transform="rotate(0 429.0 230.2)"/>
<ellipse cx="421.7" cy="236.3" rx="5" ry="4.3" fill="#bcbcbc" transform="rotate(20 421.7 236.3)"/>
<ellipse cx="440.8" cy="239.4" rx="4.8" ry="4.8" fill="#a4a4a4" transform="rotate(0 440.8 239.4)"/>
<ellipse cx="420.5" cy="247.0" rx="5.5" ry="5.2" fill="#c4c4c4" transform="rotate(0 420.5 247.0)"/>
<ellipse cx="441.7" cy="252.1" rx="4.5" ry="2.2" fill="#949494" transform="rotate(0 441.7 252.1)"/>
<ellipse cx="424.4" cy="225.7" rx="0.7" ry="0.7" fill="#808080" transform="rotate(0 424.4 225.7)"/>
</g></g>
<clipPath id="c3N"><rect x="459.8" y="184.8" width="34.1" height="33.9"/></clipPath>
<rect x="459.8" y="184.8" width="34.1" height="33.9" fill="#050505"/>
<g clip-path="url(#c3N)">
<g filter="url(#texN)"><rect x="459.8" y="184.8" width="34.1" height="33.9" fill="#121212"/><ellipse cx="464.8" cy="188.8" rx="7" ry="4.5" fill="#3a3a3a"/><ellipse cx="490.8" cy="193.8" rx="3.5" ry="7" fill="#303030"/><ellipse cx="481.8" cy="187.8" rx="5" ry="2.5" fill="#2a2a2a"/><ellipse cx="486.8" cy="214.8" rx="6" ry="3" fill="#262626"/></g>
<g filter="url(#texN)">
<ellipse cx="474.6" cy="194.2" rx="5.6" ry="4.8" fill="#8a8a8a" transform="rotate(0 474.6 194.2)"/>
<ellipse cx="486.6" cy="204.3" rx="4.8" ry="6.2" fill="#7a7a7a" transform="rotate(0 486.6 204.3)"/>
<ellipse cx="470.8" cy="209.8" rx="6.6" ry="7.2" fill="#8a8a8a" transform="rotate(20 470.8 209.8)"/>
</g></g>
<clipPath id="c3H"><rect x="459.8" y="220.8" width="34.1" height="33.9"/></clipPath>
<rect x="459.8" y="220.8" width="34.1" height="33.9" fill="#050505"/>
<g clip-path="url(#c3H)">
<rect x="459.8" y="220.8" width="34.1" height="33.9" fill="#0c0c0c"/>
<g filter="url(#haze)">
<ellipse cx="464.8" cy="223.0" rx="7.5" ry="3.2" fill="#a8a8a8"/>
<ellipse cx="463.0" cy="236.3" rx="3.6" ry="5.6" fill="#dcdcdc"/>
<ellipse cx="462.2" cy="248.3" rx="3.2" ry="5.5" fill="#8e8e8e"/>
<ellipse cx="492.3" cy="228.8" rx="2.6" ry="6.5" fill="#848484"/>
<ellipse cx="492.3" cy="247.8" rx="3" ry="5.5" fill="#6c6c6c"/>
<ellipse cx="474.8" cy="253.8" rx="4.5" ry="2.2" fill="#848484"/>
<ellipse cx="489.8" cy="221.60000000000002" rx="3.5" ry="2" fill="#707070"/>
<ellipse cx="479.3" cy="237.8" rx="2.5" ry="2.5" fill="#3a3a3a"/>
</g><g filter="url(#bl)">
<ellipse cx="470.2" cy="245.20000000000002" rx="7.4" ry="7.4" fill="#060606"/>
<ellipse cx="475.6" cy="230.5" rx="6.2" ry="6.2" fill="#060606"/>
<ellipse cx="485.40000000000003" cy="240.3" rx="6.0" ry="6.8" fill="#060606"/>
<ellipse cx="480.5" cy="250.0" rx="6.6" ry="5.6" fill="#060606"/>
<ellipse cx="484.2" cy="225.70000000000002" rx="6.2" ry="6.4" fill="#060606"/>
</g>
<g filter="url(#texH)">
<ellipse cx="484.2" cy="225.7" rx="5" ry="5.5" fill="#d4d4d4" transform="rotate(0 484.2 225.7)"/>
<ellipse cx="475.6" cy="230.5" rx="4.8" ry="4.8" fill="#b0b0b0" transform="rotate(0 475.6 230.5)"/>
<ellipse cx="485.4" cy="240.3" rx="4.5" ry="5.4" fill="#bcbcbc" transform="rotate(0 485.4 240.3)"/>
<ellipse cx="470.2" cy="245.2" rx="5.8" ry="5.8" fill="#acacac" transform="rotate(0 470.2 245.2)"/>
<ellipse cx="480.5" cy="250.0" rx="5.4" ry="4.5" fill="#9c9c9c" transform="rotate(0 480.5 250.0)"/>
<ellipse cx="491.5" cy="253.1" rx="3" ry="2" fill="#8c8c8c" transform="rotate(0 491.5 253.1)"/>
</g></g>
</g>
</svg>
</body></html>
